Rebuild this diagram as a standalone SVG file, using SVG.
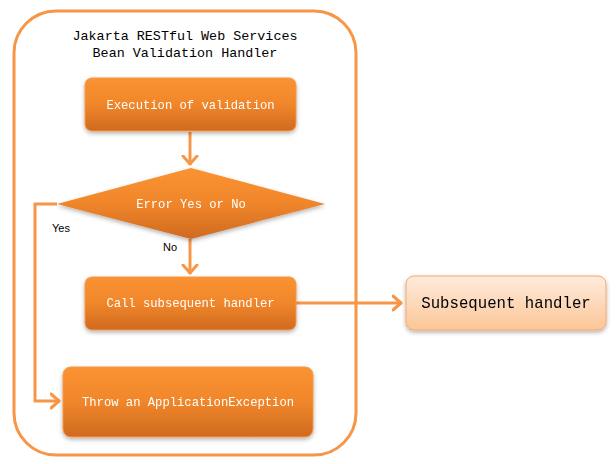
<svg xmlns="http://www.w3.org/2000/svg" width="616" height="464" viewBox="0 0 616 464">
<style>
.mono{font-family:"Liberation Mono","DejaVu Sans Mono",monospace}
.box{fill:url(#og);stroke:#F79646;stroke-width:1}
.btxt{fill:#fff;font-size:12.2px;text-anchor:middle;dominant-baseline:central}
.conn{fill:none;stroke:#F79646;stroke-width:3}
.lbl{font-family:"Liberation Sans",Arial,sans-serif;font-size:11px;fill:#000}
</style>
<defs>
<linearGradient id="og" x1="0" y1="0" x2="0" y2="1">
<stop offset="0" stop-color="#FA9331"/>
<stop offset="0.5" stop-color="#F0862B"/>
<stop offset="1" stop-color="#CF6A1F"/>
</linearGradient>
<linearGradient id="lg" x1="0" y1="0" x2="0" y2="1">
<stop offset="0" stop-color="#FEEBDD"/>
<stop offset="1" stop-color="#FBC697"/>
</linearGradient>
<filter id="sh" x="-10%" y="-20%" width="120%" height="150%">
<feDropShadow dx="0" dy="2" stdDeviation="2" flood-color="#000" flood-opacity="0.3"/>
</filter>
<marker id="ah" markerUnits="userSpaceOnUse" markerWidth="20" markerHeight="20" refX="10" refY="10" orient="auto">
<polyline points="1,3 9,10 1,17" fill="none" stroke="#F79646" stroke-width="3" stroke-linecap="round" stroke-linejoin="round"/>
</marker>
</defs>
<rect width="616" height="464" fill="#fff"/>
<g id="container">
<rect x="14" y="11" width="342" height="444" rx="42" fill="none" stroke="#F79646" stroke-width="3"/>
<text class="mono" x="185" y="40" font-size="13.4" text-anchor="middle" fill="#000">Jakarta RESTful Web Services</text>
<text class="mono" x="185" y="57" font-size="13.4" text-anchor="middle" fill="#000">Bean Validation Handler</text>
</g>
<g id="connectors">
<line class="conn" x1="190" y1="132" x2="190" y2="165" marker-end="url(#ah)"/>
<line class="conn" x1="190" y1="239" x2="190" y2="274" marker-end="url(#ah)"/>
<polyline class="conn" points="57,204 35,204 35,401 60,401" marker-end="url(#ah)"/>
<line class="conn" x1="296" y1="303" x2="402" y2="303" marker-end="url(#ah)"/>
<text class="lbl" x="52" y="232">Yes</text>
<text class="lbl" x="163" y="251">No</text>
</g>
<g id="validation" filter="url(#sh)">
<rect class="box" x="85" y="78" width="211" height="53" rx="7"/>
<text class="mono btxt" x="190.5" y="106">Execution of validation</text>
</g>
<g id="decision" filter="url(#sh)">
<polygon points="57,204 191,168 325,204 191,239" fill="url(#og)"/>
<text class="mono btxt" x="191" y="205">Error Yes or No</text>
</g>
<g id="call" filter="url(#sh)">
<rect class="box" x="85" y="277" width="211" height="53" rx="7"/>
<text class="mono btxt" x="190.5" y="304">Call subsequent handler</text>
</g>
<g id="throw" filter="url(#sh)">
<rect class="box" x="63" y="367" width="250" height="70" rx="8"/>
<text class="mono btxt" x="188" y="403">Throw an ApplicationException</text>
</g>
<g id="subsequent" filter="url(#sh)">
<rect x="406" y="276" width="200" height="54" rx="8" fill="url(#lg)" stroke="#F9A769" stroke-width="1"/>
<text class="mono" x="506" y="304" font-size="15.7" text-anchor="middle" dominant-baseline="central" fill="#000">Subsequent handler</text>
</g>
</svg>
